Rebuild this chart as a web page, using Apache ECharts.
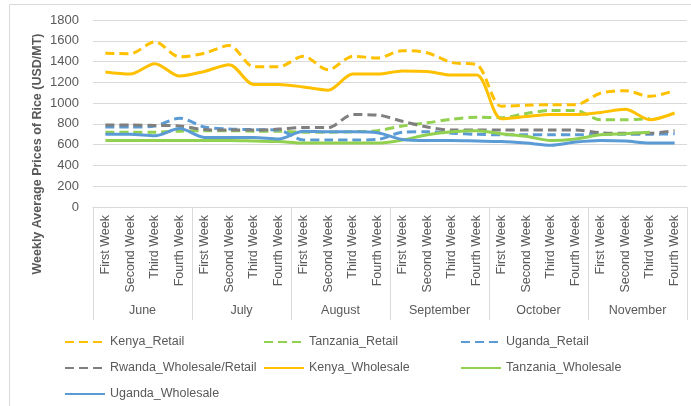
<!DOCTYPE html>
<html>
<head>
<meta charset="utf-8">
<script src="https://cdn.jsdelivr.net/npm/echarts@6/dist/echarts.min.js"></script>
<style>
html,body{margin:0;padding:0;background:#fff;}
#chart{width:691px;height:406px;}
</style>
</head>
<body>
<div id="chart"></div>
<script>
const months = ['June', 'July', 'August', 'September', 'October', 'November'];
const weeks = ['First Week', 'Second Week', 'Third Week', 'Fourth Week'];
const yTicks = [0, 200, 400, 600, 800, 1000, 1200, 1400, 1600, 1800];

const kenyaRetail = [1480, 1475, 1590, 1445, 1480, 1555, 1350, 1350, 1450, 1320, 1450, 1435,
                     1505, 1485, 1390, 1370, 970, 980, 985, 985, 1095, 1120, 1065, 1120];
const tanzaniaRetail = [720, 720, 720, 730, 735, 735, 730, 730, 720, 720, 725, 735,
                        780, 810, 845, 865, 860, 900, 930, 930, 840, 840, 850, null];
const ugandaRetail = [770, 770, 780, 855, 770, 750, 745, 740, 645, 645, 645, 650,
                      720, 725, 710, 700, 695, 695, 695, 695, 700, 700, 700, 705];
const rwandaWholesaleRetail = [790, 790, 785, 780, 745, 740, 740, 750, 765, 765, 890, 885,
                               825, 770, 740, 740, 740, 740, 740, 740, 715, 710, 710, 735];
const kenyaWholesale = [1300, 1280, 1380, 1260, 1305, 1370, 1180, 1180, 1155, 1125, 1280, 1280,
                        1310, 1305, 1270, 1270, 850, 870, 890, 890, 910, 940, 840, 905];
const tanzaniaWholesale = [640, 640, 640, 640, 640, 640, 635, 630, 615, 615, 615, 615,
                           645, 695, 725, 735, 705, 680, 640, 655, 695, 705, 720, null];
const ugandaWholesale = [700, 700, 685, 755, 670, 670, 670, 655, 730, 725, 725, 715,
                         650, 640, 640, 635, 630, 615, 595, 625, 640, 635, 615, 615];

const categories = [];
months.forEach(m => weeks.forEach(w => categories.push(m + '|' + w)));

const ORANGE = '#FFC000', GREEN = '#92D050', BLUE = '#5B9BD5', GRAY = '#7F7F7F';
const TXT = '#595959';
const FONT = '"Liberation Sans", Arial, sans-serif';

function mk(name, data, color, dashed) {
  return {
    name: name, type: 'line', data: data, xAxisIndex: 0,
    symbol: 'none', smooth: 0.3, connectNulls: false,
    lineStyle: { color: color, width: 3, type: dashed ? [9, 5] : 'solid', cap: 'butt' },
    itemStyle: { color: color },
    emphasis: { disabled: true }
  };
}

const chart = echarts.init(document.getElementById('chart'), null, { renderer: 'canvas' });
const legendCommon = {
  orient: 'vertical', itemWidth: 40, itemHeight: 14, itemGap: 12, top: 335, padding: 0,
  itemStyle: { opacity: 0 },
  textStyle: { color: TXT, fontSize: 12.5, fontFamily: FONT, lineHeight: 14 }, selectedMode: false
};
chart.setOption({
  animation: false,
  backgroundColor: '#ffffff',
  textStyle: { fontFamily: FONT },
  graphic: [
    { type: 'rect', shape: { x: 9.5, y: 4.5, width: 720, height: 440 }, style: { fill: 'none', stroke: '#d9d9d9', lineWidth: 1 }, silent: true },
    { type: 'text', x: 38, y: 154, rotation: Math.PI / 2,
      style: { text: 'Weekly Average Prices of Rice (USD/MT)', fill: TXT, font: 'bold 12.5px ' + FONT, align: 'center', verticalAlign: 'middle' } }
  ],
  grid: { left: 93, right: 4, top: 20, bottom: 199, containLabel: false },
  legend: [
    Object.assign({}, legendCommon, { left: 64, data: ['Kenya_Retail', 'Rwanda_Wholesale/Retail', 'Uganda_Wholesale'] }),
    Object.assign({}, legendCommon, { left: 263, data: ['Tanzania_Retail', 'Kenya_Wholesale'] }),
    Object.assign({}, legendCommon, { left: 460, data: ['Uganda_Retail', 'Tanzania_Wholesale'] })
  ],
  xAxis: [
    {
      type: 'category', data: categories, boundaryGap: true, position: 'bottom',
      axisLine: { show: true, lineStyle: { color: '#d9d9d9', width: 1 } },
      axisTick: { show: false },
      axisLabel: { interval: 0, rotate: 90, margin: 8, color: TXT, fontSize: 12.5, fontFamily: FONT,
                   formatter: v => v.split('|')[1] },
      splitLine: { show: false }
    },
    {
      type: 'category', data: months, boundaryGap: true, position: 'bottom', gridIndex: 0,
      axisLine: { show: true, lineStyle: { color: '#d9d9d9', width: 1 } },
      axisTick: { show: true, interval: 0, length: 113, lineStyle: { color: '#d9d9d9', width: 1 } },
      axisLabel: { interval: 0, margin: 97, color: TXT, fontSize: 12.5, fontFamily: FONT },
      splitLine: { show: false }
    }
  ],
  yAxis: {
    type: 'value', min: yTicks[0], max: yTicks[yTicks.length - 1], interval: yTicks[1] - yTicks[0],
    axisLine: { show: false }, axisTick: { show: false },
    axisLabel: { color: TXT, fontSize: 13, margin: 14, fontFamily: FONT, formatter: v => String(v) },
    splitLine: { lineStyle: { color: '#d9d9d9', width: 1 } }
  },
  series: [
    mk('Kenya_Retail', kenyaRetail, ORANGE, true),
    mk('Tanzania_Retail', tanzaniaRetail, GREEN, true),
    mk('Uganda_Retail', ugandaRetail, BLUE, true),
    mk('Rwanda_Wholesale/Retail', rwandaWholesaleRetail, GRAY, true),
    mk('Kenya_Wholesale', kenyaWholesale, ORANGE, false),
    mk('Tanzania_Wholesale', tanzaniaWholesale, GREEN, false),
    mk('Uganda_Wholesale', ugandaWholesale, BLUE, false)
  ]
});
</script>
</body>
</html>
